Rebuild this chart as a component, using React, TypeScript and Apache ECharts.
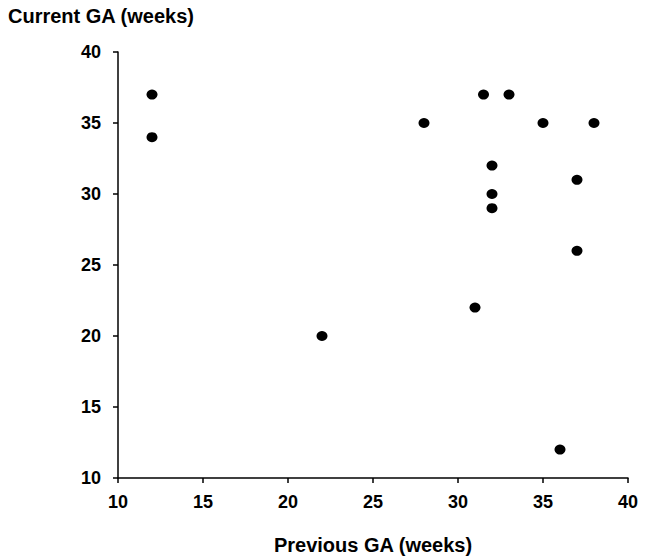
import React, { useEffect, useRef } from "react";
import * as echarts from "echarts";

// Gestational age at the previous and current pregnancy, in weeks
const previousGA: number[] = [12, 12, 22, 28, 31.5, 33, 35, 38, 32, 32, 32, 37, 37, 31, 36];
const currentGA: number[] = [37, 34, 20, 35, 37, 37, 35, 35, 32, 30, 29, 31, 26, 22, 12];
const axisTicks: number[] = [10, 15, 20, 25, 30, 35, 40];

const FONT = "'Liberation Sans', Arial, sans-serif";

export default function App() {
  const ref = useRef<HTMLDivElement>(null);

  useEffect(() => {
    if (!ref.current) return;
    const chart = echarts.init(ref.current, null, { renderer: "svg", width: 645, height: 560 });
    const points = previousGA.map((x, i) => [x, currentGA[i]]);
    const axisCommon = {
      type: "value" as const,
      min: axisTicks[0],
      max: axisTicks[axisTicks.length - 1],
      interval: 5,
      splitLine: { show: false },
      axisLine: { show: true, lineStyle: { color: "#000", width: 1.5 } },
      axisTick: { show: true, inside: false, length: 5, lineStyle: { color: "#000", width: 1.5 } },
    };
    const labelStyle = {
      color: "#000",
      fontFamily: FONT,
      fontWeight: "bold" as const,
      fontSize: 18,
    };
    chart.setOption({
      animation: false,
      backgroundColor: "#fff",
      title: {
        text: "Current GA (weeks)",
        left: 3,
        top: 1,
        textStyle: { color: "#000", fontFamily: FONT, fontWeight: "bold", fontSize: 20 },
      },
      grid: { left: 118, width: 510, top: 52, height: 426, containLabel: false },
      xAxis: {
        ...axisCommon,
        axisLabel: { ...labelStyle, margin: 15 },
        name: "Previous GA (weeks)",
        nameLocation: "middle",
        nameGap: 57,
        nameTextStyle: { color: "#000", fontFamily: FONT, fontWeight: "bold", fontSize: 20 },
      },
      yAxis: { ...axisCommon, axisLabel: { ...labelStyle, margin: 17 } },
      series: [
        {
          type: "scatter",
          data: points,
          symbol: "circle",
          symbolSize: [11, 10],
          itemStyle: { color: "#000", opacity: 1 },
        },
      ],
    });
    return () => chart.dispose();
  }, []);

  return (
    <div
      ref={ref}
      style={{ width: 645, height: 560, position: "fixed", left: 0, top: 0, margin: 0 }}
    />
  );
}
